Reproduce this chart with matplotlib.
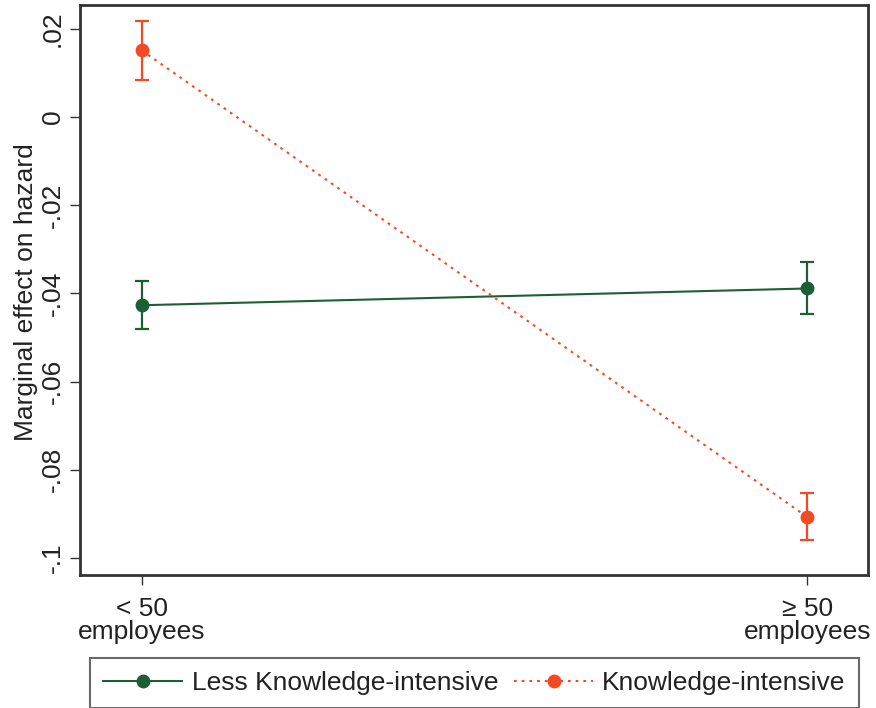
import matplotlib
matplotlib.use("Agg")
import matplotlib.pyplot as plt

plt.rcParams['font.family'] = ['Liberation Sans', 'DejaVu Sans']

# Firm-size groups and marginal effects with confidence bounds
categories = ["< 50\nemployees", "\u2265 50\nemployees"]
less_ki = [-0.0427, -0.0389]
less_ki_lo = [-0.0481, -0.0447]
less_ki_hi = [-0.0372, -0.0330]
ki = [0.0151, -0.0907]
ki_lo = [0.0083, -0.0960]
ki_hi = [0.0217, -0.0853]
yticks = [0.02, 0, -0.02, -0.04, -0.06, -0.08, -0.1]
yticklabels = [".02", "0", "-.02", "-.04", "-.06", "-.08", "-.1"]

green = "#1c5f34"
orange = "#f24a24"
axis_col = "#333333"
text_col = "#222222"
fs = 19

fig = plt.figure(figsize=(8.76, 7.08), dpi=100)
ax = fig.add_axes([80/876, 1 - 574.5/708, (867.5-80)/876, (574.5-4.5)/708])

x = list(range(len(categories)))

def draw(vals, lo, hi, color, ls, label):
    ax.errorbar(x, vals,
                yerr=[[v - l for v, l in zip(vals, lo)], [h - v for v, h in zip(vals, hi)]],
                fmt="none", ecolor=color, elinewidth=1.6, capsize=5, capthick=1.6, zorder=3)
    ax.plot(x, vals, color=color, linestyle=ls, linewidth=1.5, marker="o",
            markersize=10, markeredgewidth=0, label=label, zorder=4)

draw(less_ki, less_ki_lo, less_ki_hi, green, "-", "Less Knowledge-intensive")
draw(ki, ki_lo, ki_hi, orange, (0, (1.3, 2.4)), "Knowledge-intensive")

ax.set_xlim(-0.0927, 1.0907)
ax.set_ylim(-0.10376, 0.0255)
ax.set_xticks(x)
ax.set_xticklabels(categories, fontsize=fs, color=text_col, linespacing=0.95)
ax.set_yticks(yticks)
ax.set_yticklabels(yticklabels, fontsize=fs, color=text_col, rotation=90, va="center")
ax.tick_params(axis="both", direction="out", length=7, width=1.0, color=axis_col)
ax.tick_params(axis="x", pad=9)
ax.tick_params(axis="y", pad=4)
for s in ax.spines.values():
    s.set_linewidth(2.0)
    s.set_color(axis_col)
ax.set_ylabel("Marginal effect on hazard", fontsize=fs, color=text_col)
ax.yaxis.set_label_coords(-0.0533, 0.495)

leg = fig.legend(loc="center left", bbox_to_anchor=(90/876, (708-683)/708),
                 ncol=2, fontsize=fs, frameon=True, fancybox=False,
                 handlelength=3.0, handletextpad=0.35, columnspacing=0.6,
                 borderaxespad=0, borderpad=0.5)
leg.get_frame().set_edgecolor("#444444")
leg.get_frame().set_linewidth(1.5)
for t in leg.get_texts():
    t.set_color(text_col)

fig.savefig("out.png", dpi=100)
